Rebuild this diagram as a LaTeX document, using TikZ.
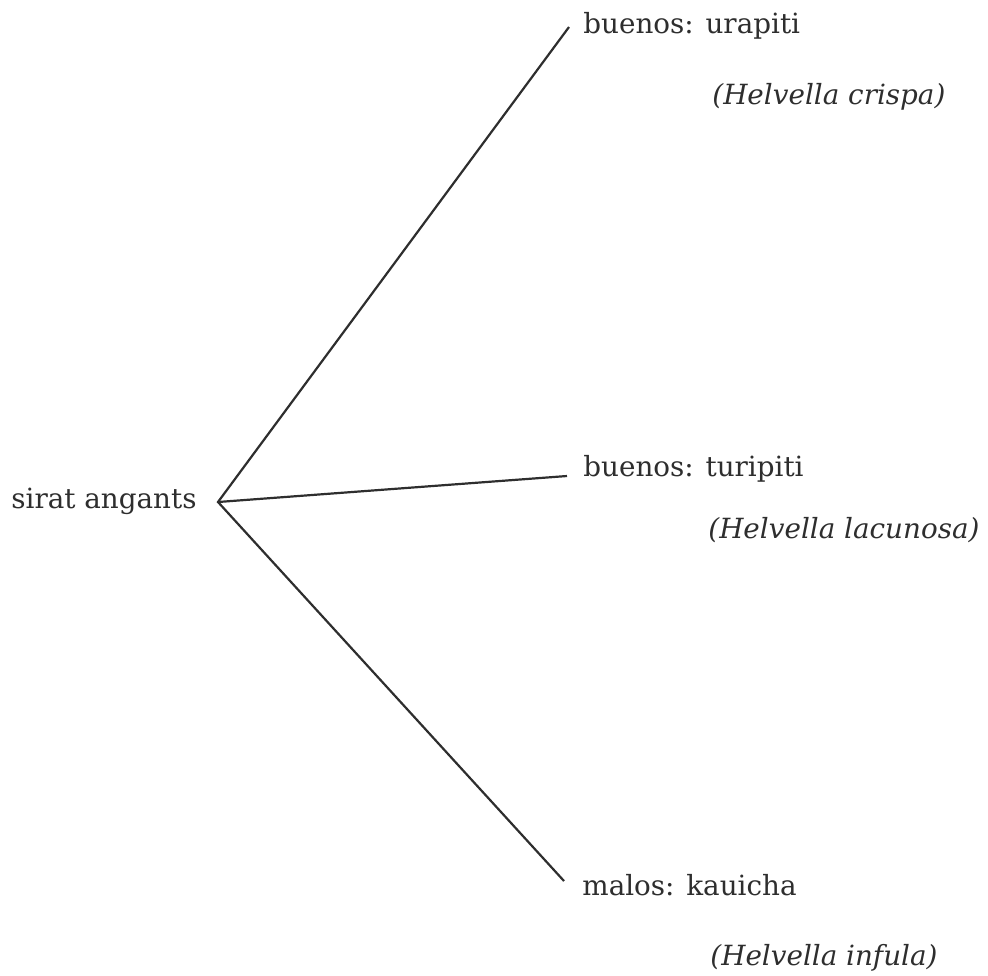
\documentclass[tikz,border=0pt]{standalone}
\usepackage{fontspec}
\setmainfont{DejaVu Serif}
\begin{document}
\begin{tikzpicture}[x=0.5pt,y=-0.5pt,
  label/.style={inner sep=0pt,anchor=base west,text=black!82,font=\fontsize{13.9}{17}\selectfont},
  sci/.style={label,font=\fontsize{13.9}{17}\selectfont\itshape},
  branch/.style={draw=black!82,line width=1.1pt}]
\useasboundingbox (0,0) rectangle (988,975);
% root label and branching point
\node[label] (root) at (11,508) {sirat angants};
\coordinate (hub) at (218,502);
% branch ends
\coordinate (e1) at (569,27);
\coordinate (e2) at (567,476);
\coordinate (e3) at (564,881);
\draw[branch] (e1) -- (hub) -- (e3);
\draw[branch] (hub) -- (e2);
% leaf labels
\node[label] (l1) at (583,33) {buenos: urapiti};
\node[sci] (s1) at (712,104) {(Helvella crispa)};
\node[label] (l2) at (583,476) {buenos: turipiti};
\node[sci] (s2) at (708,538) {(Helvella lacunosa)};
\node[label] (l3) at (582,895) {malos: kauicha};
\node[sci] (s3) at (710,965) {(Helvella infula)};
\end{tikzpicture}
\end{document}
